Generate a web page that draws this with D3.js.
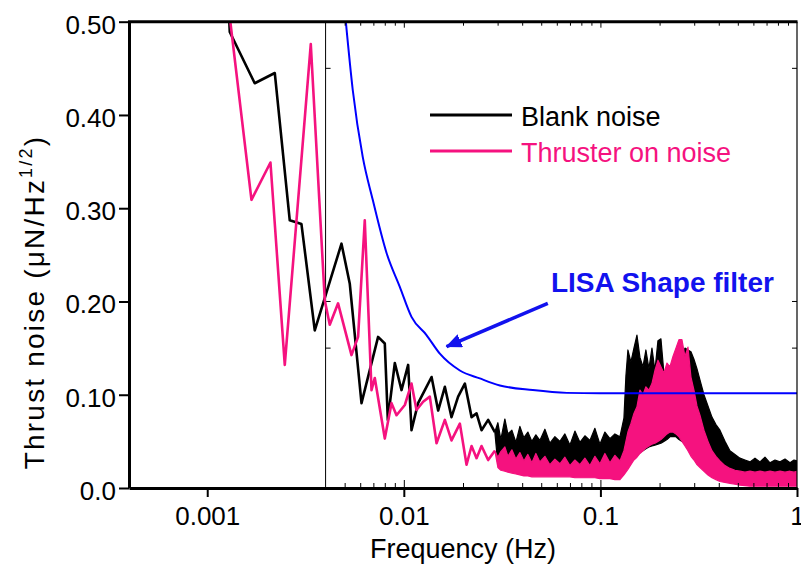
<!DOCTYPE html>
<meta charset="utf-8">
<script src="https://d3js.org/d3.v7.min.js"></script>
<style>
  body { margin: 0; background: #fff; }
  text { font-family: "Liberation Sans", Arial, sans-serif; }
</style>
<div id="chart"></div>
<script>
// ---- data ----
// axis ticks
var xTicks = [0.001, 0.01, 0.1, 1];
var xTickLabels = ["0.001", "0.01", "0.1", "1"];
var xMinorTicks = [0.005, 0.006, 0.007, 0.008, 0.009, 0.02, 0.03, 0.04, 0.05, 0.06, 0.07, 0.08, 0.09,
                   0.2, 0.3, 0.4, 0.5, 0.6, 0.7, 0.8, 0.9];
var yTicks = [0, 0.1, 0.2, 0.3, 0.4, 0.5];
var yTickLabels = ["0.0", "0.10", "0.20", "0.30", "0.40", "0.50"];
var insetFreq = 0.004;               // the thin inner axis line
var insetTicks = [0.45, 0.2, 0.15];

// low frequency part, single points [Hz, uN/Hz^1/2]
var blankFreq = [0.000868, 0.001302, 0.001744, 0.002206, 0.002629, 0.003015, 0.003524, 0.004819, 0.005311,
  0.006091, 0.007399, 0.008003, 0.008291, 0.009000, 0.009734, 0.01052, 0.01094, 0.01182, 0.01279, 0.01384,
  0.01495, 0.01617, 0.01748, 0.01889, 0.02044, 0.02211, 0.02344, 0.02485, 0.02685, 0.02904];
var blankValue = [1.3, 0.489, 0.434, 0.445, 0.287, 0.283, 0.169, 0.262, 0.219,
  0.091, 0.162, 0.155, 0.073, 0.134, 0.105, 0.132, 0.062, 0.091, 0.105, 0.119,
  0.083, 0.1085, 0.076, 0.098, 0.112, 0.076, 0.080, 0.062, 0.073, 0.060];

var thrustFreq = [0.000868, 0.001302, 0.001679, 0.002097, 0.002480, 0.003363, 0.003963, 0.004200, 0.004630,
  0.005418, 0.005853, 0.006329, 0.006849, 0.007118, 0.008003, 0.008658, 0.009180, 0.01012, 0.01094, 0.01160,
  0.01254, 0.01356, 0.01467, 0.01617, 0.01748, 0.01928, 0.02085, 0.02211, 0.02344, 0.02485, 0.02685, 0.02904];
var thrustValue = [1.3, 0.505, 0.309, 0.349, 0.132, 0.476, 0.201, 0.175, 0.198,
  0.1425, 0.162, 0.287, 0.105, 0.118, 0.053, 0.091, 0.078, 0.089, 0.112, 0.0836,
  0.0925, 0.098, 0.048, 0.073, 0.051, 0.069, 0.025, 0.045, 0.032, 0.045, 0.030, 0.040];

// high frequency part is a dense trace: lower / upper edges
var bandFreq = [0.02904, 0.03009, 0.03115, 0.03266, 0.03383, 0.03545, 0.03715, 0.03894, 0.04080, 0.04276,
  0.04481, 0.04696, 0.04921, 0.05220, 0.05534, 0.05868, 0.06222, 0.06597, 0.06995, 0.07418,
  0.07865, 0.08339, 0.08843, 0.09376, 0.09943, 0.1054, 0.1118, 0.1185, 0.1257, 0.1317,
  0.1348, 0.1380, 0.1429, 0.1481, 0.1534, 0.1589, 0.1646, 0.1704, 0.1765, 0.1829,
  0.1894, 0.1962, 0.2032, 0.2104, 0.2181, 0.2258, 0.2339, 0.2422, 0.2509, 0.2599,
  0.2692, 0.2788, 0.2888, 0.2991, 0.3098, 0.3209, 0.3363, 0.3525, 0.3693, 0.3870,
  0.4056, 0.4301, 0.4560, 0.4835, 0.5127, 0.5436, 0.5765, 0.6113, 0.6482, 0.6873,
  0.7288, 0.7727, 0.8194, 0.8689, 0.9213, 0.9654, 1.0];
var blankHigh = [0.060, 0.070, 0.052, 0.074, 0.058, 0.062, 0.049, 0.066, 0.054, 0.060,
  0.050, 0.057, 0.051, 0.063, 0.048, 0.055, 0.050, 0.058, 0.046, 0.061,
  0.049, 0.056, 0.051, 0.064, 0.047, 0.060, 0.053, 0.058, 0.055, 0.075,
  0.120, 0.148, 0.135, 0.150, 0.164, 0.140, 0.130, 0.148, 0.128, 0.150,
  0.126, 0.158, 0.160, 0.123, 0.130, 0.112, 0.125, 0.135, 0.140, 0.142,
  0.150, 0.148, 0.146, 0.138, 0.128, 0.116, 0.100, 0.088, 0.076, 0.068,
  0.062, 0.050, 0.040, 0.036, 0.032, 0.030, 0.028, 0.032, 0.028, 0.033,
  0.027, 0.030, 0.028, 0.031, 0.027, 0.030, 0.029];
var blankLow = [0.060, 0.025, 0.025, 0.024, 0.024, 0.023, 0.023, 0.022, 0.022, 0.021,
  0.021, 0.020, 0.020, 0.020, 0.020, 0.020, 0.019, 0.019, 0.019, 0.019,
  0.019, 0.019, 0.019, 0.019, 0.019, 0.019, 0.019, 0.019, 0.019, 0.020,
  0.022, 0.025, 0.028, 0.032, 0.035, 0.038, 0.040, 0.042, 0.044, 0.045,
  0.046, 0.047, 0.048, 0.050, 0.052, 0.055, 0.055, 0.055, 0.052, 0.050,
  0.047, 0.043, 0.038, 0.034, 0.030, 0.027, 0.024, 0.022, 0.020, 0.019,
  0.018, 0.017, 0.016, 0.016, 0.015, 0.015, 0.015, 0.015, 0.015, 0.015,
  0.015, 0.015, 0.015, 0.015, 0.015, 0.015, 0.015];
var thrustHigh = [0.040, 0.033, 0.039, 0.044, 0.034, 0.041, 0.031, 0.038, 0.029, 0.036,
  0.027, 0.037, 0.028, 0.034, 0.025, 0.031, 0.026, 0.033, 0.024, 0.030,
  0.025, 0.032, 0.024, 0.034, 0.026, 0.037, 0.027, 0.035, 0.029, 0.040,
  0.050, 0.060, 0.069, 0.080, 0.087, 0.105, 0.100, 0.1085, 0.105, 0.112,
  0.126, 0.137, 0.130, 0.123, 0.134, 0.130, 0.141, 0.150, 0.159, 0.159,
  0.141, 0.151, 0.119, 0.105, 0.088, 0.078, 0.062, 0.050, 0.040, 0.034,
  0.029, 0.024, 0.021, 0.019, 0.018, 0.017, 0.018, 0.017, 0.018, 0.017,
  0.018, 0.017, 0.018, 0.017, 0.018, 0.017, 0.018];
var thrustLow = [0.040, 0.022, 0.019, 0.018, 0.017, 0.016, 0.015, 0.014, 0.013, 0.013,
  0.012, 0.012, 0.012, 0.012, 0.012, 0.012, 0.012, 0.012, 0.012, 0.011,
  0.011, 0.011, 0.011, 0.011, 0.010, 0.010, 0.010, 0.009, 0.009, 0.014,
  0.017, 0.020, 0.025, 0.030, 0.033, 0.037, 0.040, 0.043, 0.045, 0.047,
  0.048, 0.050, 0.052, 0.055, 0.058, 0.060, 0.060, 0.058, 0.055, 0.050,
  0.045, 0.040, 0.034, 0.030, 0.025, 0.022, 0.018, 0.014, 0.011, 0.009,
  0.007, 0.006, 0.005, 0.004, 0.003, 0.0025, 0.002, 0.002, 0.002, 0.002,
  0.002, 0.002, 0.002, 0.002, 0.002, 0.002, 0.002];

// LISA shape filter curve
var lisaFreq = [0.00507, 0.00550, 0.00618, 0.00695, 0.00817, 0.00954, 0.01094, 0.01304, 0.01525, 0.01928,
  0.02436, 0.0308, 0.0453, 0.0675, 0.0994, 1.0];
var lisaValue = [0.500, 0.4265, 0.355, 0.309, 0.252, 0.2157, 0.1835, 0.164, 0.144, 0.126,
  0.1175, 0.110, 0.105, 0.102, 0.1015, 0.1015];

// annotation: arrow tail -> tip, label anchor
var arrowFrom = [0.0540, 0.198];
var arrowTo = [0.01649, 0.1516];
var labelAt = [0.0560, 0.210];

var seriesNames = ["Blank noise", "Thruster on noise"];

// ---- drawing ----
var width = 801, height = 573;
var colBlank = "#000", colThrust = "#f5127f", colLisa = "#0000ff", colLabel = "#1212ee";

var svg = d3.select("#chart").append("svg")
  .attr("width", width)
  .attr("height", height);

var x = d3.scaleLog().domain([0.0004, 1]).range([129, 797]);
var y = d3.scaleLinear().domain([0, 0.5]).range([488, 21.7]);

svg.append("clipPath").attr("id", "plotclip")
  .append("rect")
  .attr("x", 129).attr("y", 21.7)
  .attr("width", 797 - 129).attr("height", 488 - 21.7);

// thin inner axis at 0.004 Hz
svg.append("line")
  .attr("x1", x(insetFreq)).attr("x2", x(insetFreq))
  .attr("y1", y(0.5)).attr("y2", y(0))
  .attr("stroke", "#000").attr("stroke-width", 1);
svg.selectAll(".insetTick").data(insetTicks).enter().append("line")
  .attr("x1", x(insetFreq)).attr("x2", x(insetFreq) + 5)
  .attr("y1", d => y(d)).attr("y2", d => y(d))
  .attr("stroke", "#000").attr("stroke-width", 1);

var plot = svg.append("g").attr("clip-path", "url(#plotclip)");

var line = d3.line().x(d => x(d[0])).y(d => y(d[1]));
var band = d3.area().x(d => x(d[0])).y0(d => y(d[1])).y1(d => y(d[2]));

function drawSeries(freq, vals, bf, low, high, color) {
  plot.append("path")
    .datum(freq.map((f, i) => [f, vals[i]]))
    .attr("d", line)
    .attr("fill", "none")
    .attr("stroke", color)
    .attr("stroke-width", 2.6)
    .attr("stroke-linejoin", "round");
  plot.append("path")
    .datum(bf.map((f, i) => [f, low[i], high[i]]))
    .attr("d", band)
    .attr("fill", color)
    .attr("stroke", color)
    .attr("stroke-width", 1.2)
    .attr("stroke-linejoin", "round");
}
drawSeries(blankFreq, blankValue, bandFreq, blankLow, blankHigh, colBlank);
drawSeries(thrustFreq, thrustValue, bandFreq, thrustLow, thrustHigh, colThrust);

plot.append("path")
  .datum(lisaFreq.map((f, i) => [f, lisaValue[i]]))
  .attr("d", line.curve(d3.curveMonotoneX))
  .attr("fill", "none")
  .attr("stroke", colLisa)
  .attr("stroke-width", 2);

// axes
var leftAxis = svg.append("g")
  .attr("transform", "translate(129,0)")
  .call(d3.axisLeft(y).tickValues(yTicks).tickFormat((d, i) => yTickLabels[i])
    .tickSize(10).tickSizeOuter(0).tickPadding(3));
leftAxis.select(".domain").attr("stroke-width", 3);
leftAxis.selectAll(".tick line").attr("stroke-width", 2);
leftAxis.selectAll("text").attr("font-size", 26).attr("dy", "0.44em")
  .attr("font-family", "Liberation Sans, Arial, sans-serif").attr("fill", "#000");

var bottomAxis = svg.append("g")
  .attr("transform", "translate(0,488)")
  .call(d3.axisBottom(x).tickValues(xTicks).tickFormat((d, i) => xTickLabels[i])
    .tickSize(9).tickSizeOuter(0).tickPadding(10));
bottomAxis.select(".domain").attr("stroke-width", 3);
bottomAxis.selectAll(".tick line").attr("stroke-width", 2);
bottomAxis.selectAll("text").attr("font-size", 26)
  .attr("font-family", "Liberation Sans, Arial, sans-serif").attr("fill", "#000");

// inner minor / major ticks on bottom and top
var bottomMinor = svg.append("g").attr("transform", "translate(0,488)")
  .call(d3.axisBottom(x).tickValues(xMinorTicks).tickSize(-5).tickFormat(""));
bottomMinor.select(".domain").remove();
var bottomInner = svg.append("g").attr("transform", "translate(0,488)")
  .call(d3.axisBottom(x).tickValues([0.01, 0.1]).tickSize(-8).tickFormat(""));
bottomInner.select(".domain").remove();

var topMinor = svg.append("g").attr("transform", "translate(0,21.7)")
  .call(d3.axisTop(x).tickValues(xMinorTicks).tickSize(-4).tickFormat(""));
topMinor.select(".domain").remove();
var topInner = svg.append("g").attr("transform", "translate(0,21.7)")
  .call(d3.axisTop(x).tickValues([0.01, 0.1]).tickSize(-6).tickFormat(""));
topInner.select(".domain").remove();

// frame top and right
svg.append("line")
  .attr("x1", 128).attr("x2", 797.5).attr("y1", y(0.5)).attr("y2", y(0.5))
  .attr("stroke", "#000").attr("stroke-width", 3);
svg.append("line")
  .attr("x1", 797).attr("x2", 797).attr("y1", y(0.5)).attr("y2", y(0))
  .attr("stroke", "#000").attr("stroke-width", 1.2);
svg.selectAll(".rightTick").data(insetTicks).enter().append("line")
  .attr("x1", 797).attr("x2", 792)
  .attr("y1", d => y(d)).attr("y2", d => y(d))
  .attr("stroke", "#000").attr("stroke-width", 1);

// axis titles
svg.append("text")
  .attr("x", 463).attr("y", 558)
  .attr("text-anchor", "middle")
  .attr("font-size", 27)
  .text("Frequency (Hz)");

var yTitle = svg.append("text")
  .attr("transform", "translate(44,302) rotate(-90)")
  .attr("text-anchor", "middle")
  .attr("font-size", 28)
  .attr("letter-spacing", 2.2);
yTitle.append("tspan").text("Thrust noise (\u03bcN/Hz");
yTitle.append("tspan").attr("font-size", 18).attr("dy", -12).text("1/2");
yTitle.append("tspan").attr("dy", 12).text(")");

// legend
var legend = svg.append("g").attr("transform", "translate(430,115)");
[colBlank, colThrust].forEach(function (c, i) {
  legend.append("line")
    .attr("x1", 0).attr("x2", 82).attr("y1", i * 36).attr("y2", i * 36)
    .attr("stroke", c).attr("stroke-width", 3);
  legend.append("text")
    .attr("x", 91).attr("y", i * 36 + 11)
    .attr("font-size", 27)
    .attr("fill", c)
    .text(seriesNames[i]);
});

// LISA annotation
svg.append("defs").append("marker")
  .attr("id", "arrowhead")
  .attr("markerUnits", "userSpaceOnUse")
  .attr("viewBox", "0 0 16 14")
  .attr("markerWidth", 16).attr("markerHeight", 14)
  .attr("refX", 15).attr("refY", 7)
  .attr("orient", "auto")
  .append("path")
  .attr("d", "M0,0 L16,7 L0,14 Z")
  .attr("fill", colLabel);

svg.append("line")
  .attr("x1", x(arrowFrom[0])).attr("y1", y(arrowFrom[1]))
  .attr("x2", x(arrowTo[0])).attr("y2", y(arrowTo[1]))
  .attr("stroke", colLabel)
  .attr("stroke-width", 3.5)
  .attr("marker-end", "url(#arrowhead)");

svg.append("text")
  .attr("x", x(labelAt[0])).attr("y", y(labelAt[1]))
  .attr("font-size", 28)
  .attr("font-weight", "bold")
  .attr("fill", colLabel)
  .text("LISA Shape filter");
</script>
